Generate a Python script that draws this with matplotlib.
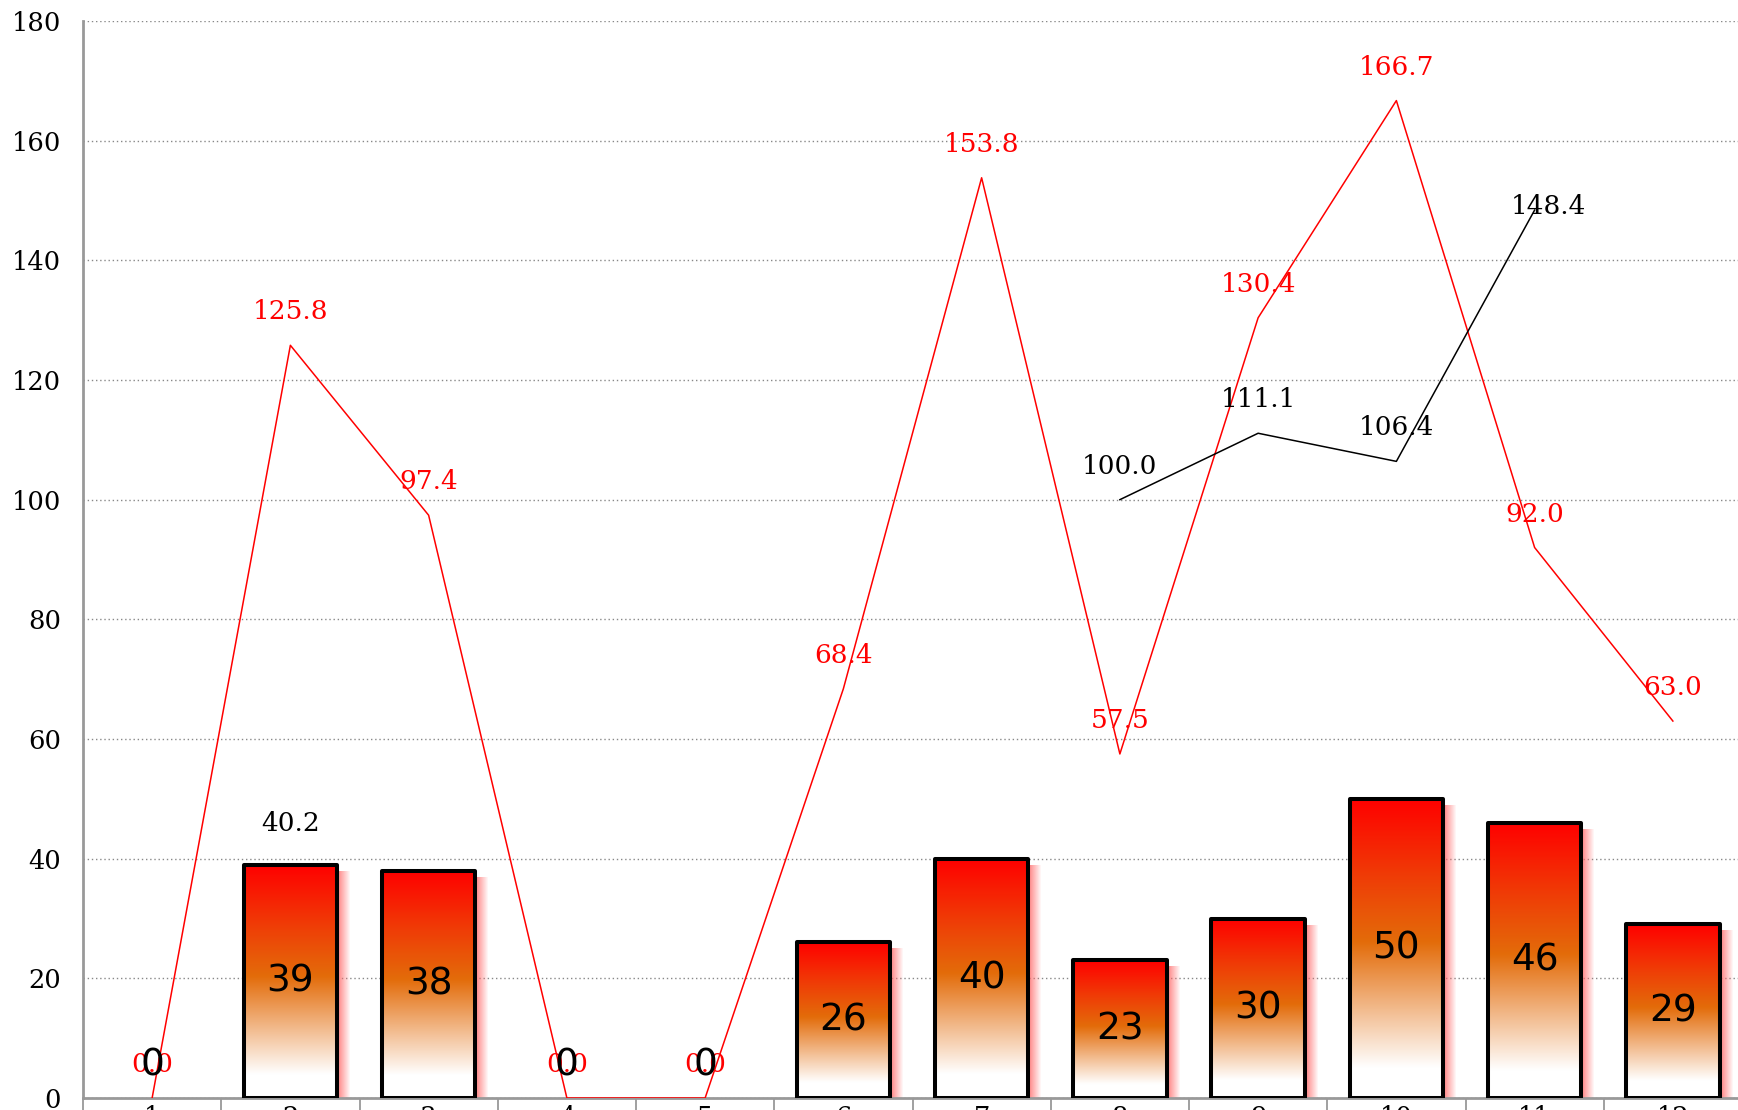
import numpy as np
import matplotlib.pyplot as plt
from matplotlib.colors import LinearSegmentedColormap
from matplotlib.patches import Rectangle

# data
categories = [str(i) for i in range(1, 13)]
bar_values = [0, 39, 38, 0, 0, 26, 40, 23, 30, 50, 46, 29]
red_line = [0.0, 125.8, 97.4, 0.0, 0.0, 68.4, 153.8, 57.5, 130.4, 166.7, 92.0, 63.0]
black_line = [np.nan, 40.2, np.nan, np.nan, np.nan, np.nan, np.nan,
              100.0, 111.1, 106.4, 148.4, np.nan]

serif = 'DejaVu Serif'
sans = 'DejaVu Sans'

fig = plt.figure(figsize=(17.38, 11.10), dpi=100)
ax = fig.add_axes([83 / 1738, 12 / 1110, 1659 / 1738, 1077 / 1110])

x = np.arange(len(categories))

# px -> data conversions
px_x = len(categories) / 1659.0
px_y = 180 / 1077.0

# gradient for the bars: red top, orange middle, white bottom
grad_cmap = LinearSegmentedColormap.from_list(
    'bargrad', [(0.0, '#ffffff'), (0.1, '#ffffff'), (0.52, '#e36c0a'),
                (0.75, '#f03a06'), (1.0, '#ff0000')])
grad = np.linspace(0, 1, 256).reshape(-1, 1)

bars = ax.bar(x, bar_values, width=0.675, facecolor='none', edgecolor='black',
              linewidth=2.9, zorder=4)
for b in bars:
    b.set_joinstyle('round')
    if b.get_height() <= 0:
        b.set_linewidth(0)

for b in bars:
    h = b.get_height()
    if h <= 0:
        continue
    x0, w = b.get_x(), b.get_width()
    # soft pink shadow on the right, built from thin strips
    n = 13
    for i in range(n):
        a = 0.85 * (1 - i / n)
        ax.add_patch(Rectangle((x0 + w + i * px_x, 0), px_x, h - 6 * px_y,
                               facecolor='#ff6a6a', edgecolor='none',
                               alpha=a, zorder=2))
    ax.imshow(grad, extent=[x0, x0 + w, 0, h], origin='lower', cmap=grad_cmap,
              aspect='auto', zorder=3, interpolation='bilinear')

ax.set_xlim(-0.5, len(categories) - 0.5)
ax.set_ylim(0, 180)

# bar value labels
for b, v in zip(bars, bar_values):
    cx = b.get_x() + b.get_width() / 2
    cy = v / 2
    off = 32 if v == 0 else 0
    ax.annotate(f'{v}', (cx, cy), xytext=(0, off), textcoords='offset pixels',
                ha='center', va='center', fontsize=27, family=sans,
                color='black', zorder=7)

# lines
ax.plot(x, red_line, color='red', lw=1.1, zorder=5)
ax.plot(x, black_line, color='black', lw=1.1, zorder=5)

for xi, v in zip(x, red_line):
    ax.annotate(f'{v:.1f}', (xi, v), xytext=(0, 26), textcoords='offset pixels',
                ha='center', va='baseline', fontsize=19, family=serif,
                color='red', zorder=6)
top_black = np.nanmax(black_line)
for xi, v in zip(x, black_line):
    if np.isnan(v):
        continue
    off = (14, -4) if v == top_black else (0, 26)
    ax.annotate(f'{v:.1f}', (xi, v), xytext=off, textcoords='offset pixels',
                ha='center', va='baseline', fontsize=19, family=serif,
                color='black', zorder=6)

# grid and axes styling
ax.set_yticks(np.arange(0, 181, 20))
ax.yaxis.grid(True, linestyle=(0, (1, 2)), color='#888888', lw=1)
ax.set_axisbelow(True)
ax.tick_params(axis='y', length=0, pad=16, labelsize=18.5, labelfontfamily=serif)

ax.set_xticks(x)
ax.set_xticklabels(categories)
ax.set_xticks(np.arange(-0.5, len(categories), 1), minor=True)
ax.tick_params(axis='x', which='major', length=0, pad=5, labelsize=18.5,
               labelfontfamily=serif)
ax.tick_params(axis='x', which='minor', length=14, width=1.3, color='#999999')

for s in ['top', 'right']:
    ax.spines[s].set_visible(False)
for s in ['left', 'bottom']:
    ax.spines[s].set_color('#999999')
    ax.spines[s].set_linewidth(2)

fig.savefig('out.png', dpi=100)
